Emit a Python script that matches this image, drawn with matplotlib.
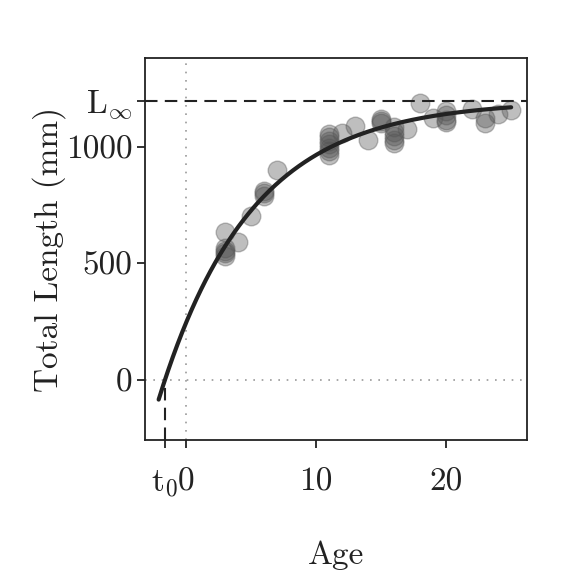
import matplotlib
matplotlib.use("Agg")
import matplotlib.pyplot as plt
import numpy as np

plt.rcParams['font.family'] = 'serif'
plt.rcParams['font.serif'] = ['cmr10']
plt.rcParams['mathtext.fontset'] = 'cm'
plt.rcParams['axes.unicode_minus'] = False

# observed age / total length (mm)
edades = [3, 3, 3, 3, 3, 4, 5, 6, 6, 6, 7,
          11, 11, 11, 11, 11, 11, 11, 12, 13, 14,
          15, 15, 15, 16, 16, 16, 16, 16, 17, 18, 19,
          20, 20, 20, 20, 22, 23, 23, 24, 25]
longitudes = [636, 565, 555, 545, 530, 590, 703, 812, 800, 788, 900,
              1055, 1040, 1025, 1010, 995, 980, 965, 1060, 1088, 1030,
              1120, 1110, 1100, 1085, 1065, 1045, 1030, 1015, 1075, 1188, 1121,
              1155, 1135, 1115, 1105, 1160, 1125, 1100, 1140, 1157]

# von Bertalanffy parameters
L_inf = 1197
K = 0.141
t0 = -1.62
edad_min_curva = -2.1
edad_max_curva = 25

x_ticks = [t0, 0, 10, 20]
x_tick_labels = [r'$\mathrm{t}_0$', '0', '10', '20']
y_ticks = [0, 500, 1000, L_inf]
y_tick_labels = ['0', '500', '1000', r'$\mathrm{L}_\infty$']

fig = plt.figure(figsize=(5.62, 5.84), dpi=100)
ax = fig.add_axes([0.258, 0.2466, 0.68, 0.654])

xlim = (-3.15, 26.23)
ylim = (-257, 1380)

ax.axvline(0, color='#999999', linestyle=(0, (1, 4)), linewidth=1.2, zorder=1)
ax.axhline(0, color='#999999', linestyle=(0, (1, 4)), linewidth=1.2, zorder=1)

ax.scatter(edades, longitudes, s=180, color='#555555', alpha=0.38,
           edgecolors='#555555', linewidths=1, zorder=2)

t = np.linspace(edad_min_curva, edad_max_curva, 300)
L = L_inf * (1 - np.exp(-K * (t - t0)))
ax.plot(t, L, color='#222222', linewidth=3, zorder=3, solid_capstyle='round')

ax.axhline(L_inf, color='#222222', linestyle=(0, (6, 3.5)), linewidth=1.5, zorder=4)
ax.vlines(t0, ylim[0], 0, color='#222222', linestyles=[(0, (6, 3.5))], linewidth=1.5, zorder=4)

ax.set_xlim(*xlim)
ax.set_ylim(*ylim)
ax.set_xticks(x_ticks)
ax.set_xticklabels(x_tick_labels)
ax.set_yticks(y_ticks)
ax.set_yticklabels(y_tick_labels)
ax.tick_params(direction='out', length=6, width=1.3, color='#222222',
               labelsize=24, labelcolor='#222222', pad=3)
ax.tick_params(axis='x', pad=14)

for s in ax.spines.values():
    s.set_linewidth(1.3)
    s.set_color('#222222')

ax.set_xlabel('Age', fontsize=24, color='#222222', labelpad=30)
ax.set_ylabel('Total Length (mm)', fontsize=24, color='#222222', labelpad=0)

plt.savefig('out.png', dpi=100)
plt.close()
